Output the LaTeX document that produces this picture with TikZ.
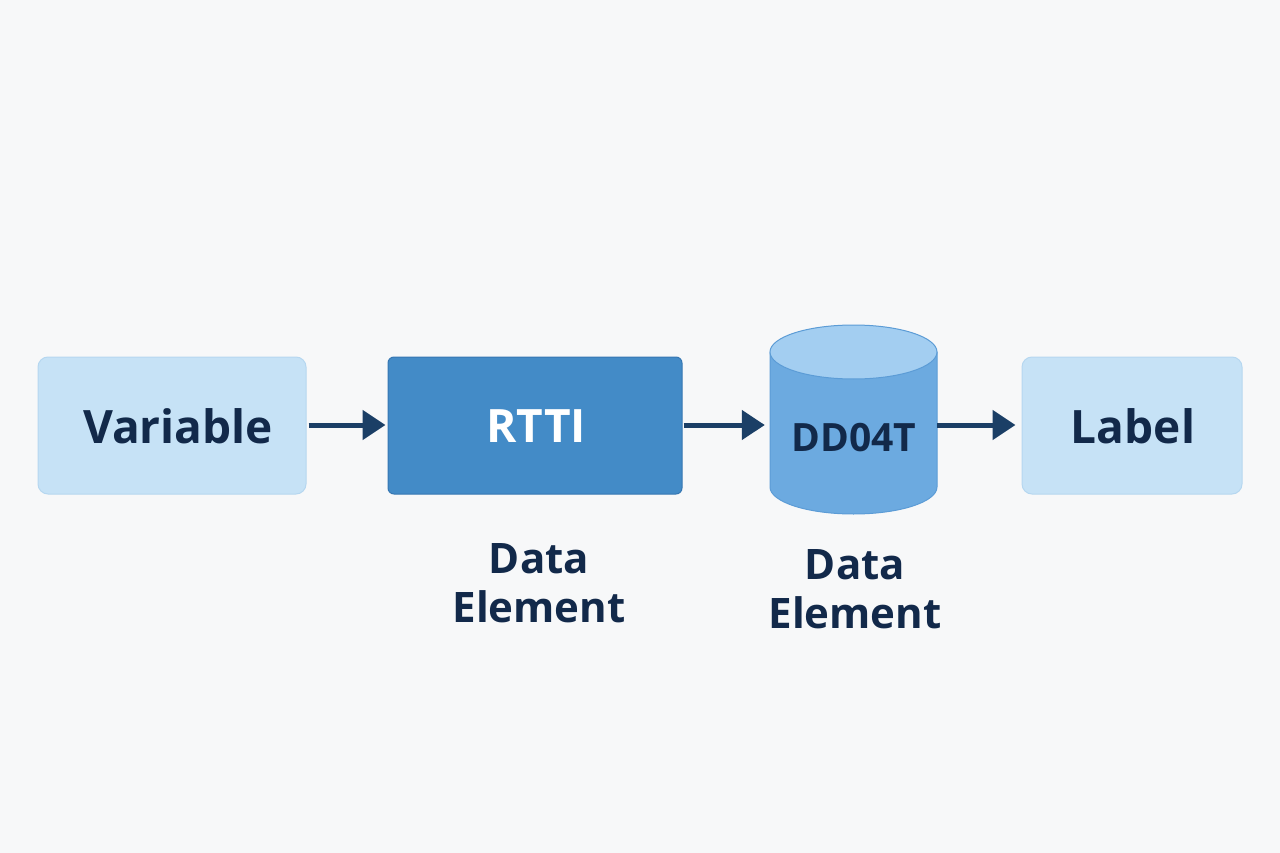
\documentclass[tikz,border=0pt]{standalone}
\usepackage{fontspec}
\setmainfont{Open Sans}
\usetikzlibrary{arrows.meta}
\definecolor{bg}{HTML}{F7F8F9}
\definecolor{lightbox}{HTML}{C6E2F6}
\definecolor{lightedge}{HTML}{B6D7F0}
\definecolor{midbox}{HTML}{438BC7}
\definecolor{midedge}{HTML}{3677B3}
\definecolor{cylbody}{HTML}{6CAAE0}
\definecolor{cyltop}{HTML}{A3CEF1}
\definecolor{cyledge}{HTML}{5C9CD6}
\definecolor{navy}{HTML}{12294A}
\definecolor{arrowc}{HTML}{1B3F66}
\begin{document}
\begin{tikzpicture}[x=1pt,y=-1pt,
  lightnode/.style={draw=lightedge, line width=1pt, fill=lightbox, rounded corners=10pt},
  darknode/.style={draw=midedge, line width=1pt, fill=midbox, rounded corners=6pt},
  boxtext/.style={font=\fontsize{46}{50}\selectfont\bfseries},
  caption/.style={text=navy, align=center, font=\fontsize{42}{49}\selectfont\bfseries},
  flow/.style={draw=arrowc, line width=5pt, -{Triangle[length=23pt,width=29pt]}}
]
\fill[bg] (0,0) rectangle (1280,853);
\useasboundingbox (0,0) rectangle (1280,853);

% boxes
\node[lightnode, minimum width=268pt, minimum height=137pt] (var) at (172,425.5) {};
\node[boxtext, text=navy] (vart) at (178,426) {Variable};

\node[darknode, minimum width=294pt, minimum height=137pt] (rtti) at (535,425.5) {};
\node[boxtext, text=white] (rttit) at (536,426) {RTTI};

\node[lightnode, minimum width=220pt, minimum height=137pt] (lab) at (1132,425.5) {};
\node[boxtext, text=navy] (labt) at (1133,426) {Label};

% cylinder
\path[fill=cylbody, draw=cyledge, line width=1pt]
  (770,352) -- (770,487) arc[start angle=180, end angle=360, x radius=83.5pt, y radius=27pt] -- (937,352) -- cycle;
\path[fill=cyltop, draw=cyledge, line width=1pt] (853.5,352) ellipse [x radius=83.5pt, y radius=27pt];
\node[minimum width=167pt, minimum height=189pt, inner sep=0pt] (cyl) at (853.5,419.5) {};
\node[text=navy, font=\fontsize{39}{44}\selectfont\bfseries] (cylt) at (854,438) {DD04T};

% captions
\node[caption] (cap1) at (539,583) {Data\\Element};
\node[caption] (cap2) at (855,589) {Data\\Element};

% arrows
\draw[flow, shorten <=2pt, shorten >=2pt] (var.east |- 0,425) -- (rtti.west |- 0,425);
\draw[flow, shorten <=1pt, shorten >=5pt] (rtti.east |- 0,425) -- (cyl.west |- 0,425);
\draw[flow, shorten >=6pt] (cyl.east |- 0,425) -- (lab.west |- 0,425);
\end{tikzpicture}
\end{document}
